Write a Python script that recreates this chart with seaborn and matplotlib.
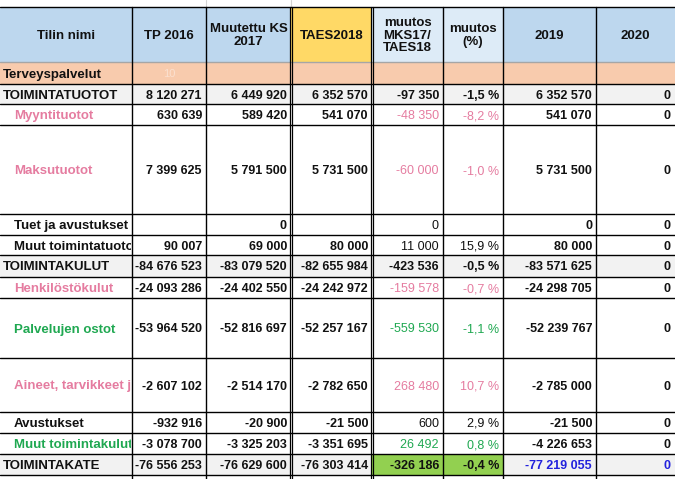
import matplotlib
matplotlib.use('Agg')
import matplotlib.pyplot as plt
from matplotlib.patches import Rectangle
from matplotlib.transforms import Bbox, TransformedBbox

import seaborn as sns

# Table data
headers = ["Tilin nimi", "TP 2016", "Muutettu KS\n2017", "TAES2018",
           "muutos\nMKS17/\nTAES18", "muutos\n(%)", "2019", "2020"]

row_names = ["Terveyspalvelut", "TOIMINTATUOTOT", "Myyntituotot", "Maksutuotot",
             "Tuet ja avustukset", "Muut toimintatuotot", "TOIMINTAKULUT",
             "Henkilöstökulut", "Palvelujen ostot", "Aineet, tarvikkeet ja tavarat",
             "Avustukset", "Muut toimintakulut", "TOIMINTAKATE"]

tp2016 = [None, 8120271, 630639, 7399625, None, 90007, -84676523,
          -24093286, -53964520, -2607102, -932916, -3078700, -76556253]
mks2017 = [None, 6449920, 589420, 5791500, 0, 69000, -83079520,
           -24402550, -52816697, -2514170, -20900, -3325203, -76629600]
taes2018 = [None, 6352570, 541070, 5731500, None, 80000, -82655984,
            -24242972, -52257167, -2782650, -21500, -3351695, -76303414]
muutos = [None, -97350, -48350, -60000, 0, 11000, -423536,
          -159578, -559530, 268480, 600, 26492, -326186]
muutos_pct = [None, -1.5, -8.2, -1.0, None, 15.9, -0.5,
              -0.7, -1.1, 10.7, 2.9, 0.8, -0.4]
ts2019 = [None, 6352570, 541070, 5731500, 0, 80000, -83571625,
          -24298705, -52239767, -2785000, -21500, -4226653, -77219055]
ts2020 = [None, 0, 0, 0, 0, 0, 0, 0, 0, 0, 0, 0, 0]

# row kind: section / total / pink / green / plain
row_kind = ["section", "total", "pink", "pink", "plain", "plain", "total",
            "pink", "green", "pink", "plain", "green", "final"]

# layout (pixels)
col_edges = [0, 132, 206, 291, 372, 443, 503, 596, 675]
header_top, header_bottom = 7, 62
row_edges = [62, 84, 104, 125, 214, 235, 255, 277, 298, 358, 412, 433, 454, 475, 496]

BLUE_HEAD = "#bdd7ee"
LIGHT_HEAD = "#ddebf7"
YELLOW_HEAD = "#ffd966"
SALMON = "#f8cbad"
GREY = "#f2f2f2"
GREEN_CELL = "#92d050"
PINK = "#e57ca0"
GREEN = "#1fa851"
BLUE_TXT = "#2222dd"

sns.set_theme(style="white")
plt.rcParams['font.family'] = ['Liberation Sans', 'DejaVu Sans']


def fmt_num(v):
    s = f"{abs(v):,}".replace(",", " ")
    return "-" + s if v < 0 else s


def fmt_pct(v):
    return f"{v:.1f} %".replace(".", ",")


fig = plt.figure(figsize=(6.75, 4.79), dpi=100)
ax = fig.add_axes([0, 0, 1, 1])
ax.set_xlim(0, 675)
ax.set_ylim(479, 0)
ax.axis("off")

# header
head_colors = [BLUE_HEAD, BLUE_HEAD, BLUE_HEAD, YELLOW_HEAD,
               LIGHT_HEAD, LIGHT_HEAD, BLUE_HEAD, BLUE_HEAD]
for i, h in enumerate(headers):
    x0, x1 = col_edges[i], col_edges[i + 1]
    ax.add_patch(Rectangle((x0, header_top), x1 - x0, header_bottom - header_top,
                           facecolor=head_colors[i], edgecolor="none"))
    ax.text((x0 + x1) / 2, (header_top + header_bottom) / 2 + 1, h,
            ha="center", va="center", fontsize=9.5, fontweight="bold",
            linespacing=1.05, color="#111111")

# faint sheet gridlines above the header
for x in [206, 291]:
    ax.plot([x, x], [0, header_top], color="#d4d4d4", lw=0.8)

columns = [tp2016, mks2017, taes2018, muutos, muutos_pct, ts2019, ts2020]

for r, name in enumerate(row_names):
    y0, y1 = row_edges[r], row_edges[r + 1]
    kind = row_kind[r]
    yb = (y0 + y1) / 2 + 4.5  # text baseline

    if kind == "section":
        bg = SALMON
    elif kind in ("total", "final"):
        bg = GREY
    else:
        bg = "white"
    ax.add_patch(Rectangle((0, y0), 675, y1 - y0, facecolor=bg, edgecolor="none"))
    if kind == "final":
        ax.add_patch(Rectangle((col_edges[4], y0), col_edges[6] - col_edges[4], y1 - y0,
                               facecolor=GREEN_CELL, edgecolor="none"))

    # name cell, clipped to first column
    name_color = {"pink": PINK, "green": GREEN}.get(kind, "#111111")
    indent = 3 if kind in ("section", "total", "final") else 14
    t = ax.text(indent, yb, name, ha="left", va="baseline", fontsize=9.5,
                fontweight="bold", color=name_color)
    t.set_clip_box(TransformedBbox(Bbox([[0, y0], [col_edges[1] - 1, y1]]), ax.transData))
    t.set_clip_on(True)

    if kind == "section":
        ax.text(col_edges[1] + 37, yb - 1, "10", ha="center", va="baseline",
                fontsize=8, color="#fbe0cf")
        continue

    for c, vals in enumerate(columns):
        v = vals[r]
        if v is None:
            continue
        ci = c + 1
        txt = fmt_pct(v) if ci == 5 else fmt_num(v)
        color = "#111111"
        weight = "bold"
        if ci in (4, 5):
            if kind == "pink":
                color = PINK
            elif kind == "green":
                color = GREEN
            if kind not in ("total", "final"):
                weight = "normal"
        if kind == "final" and ci in (6, 7):
            color = BLUE_TXT
        ax.text(col_edges[ci + 1] - 4, yb, txt, ha="right", va="baseline",
                fontsize=9, fontweight=weight, color=color)

# grid lines
ax.plot([0, 675], [header_top, header_top], color="black", lw=1)
ax.plot([0, 675], [header_bottom, header_bottom], color="#a6a6a6", lw=1)
for y in row_edges[1:]:
    ax.plot([0, 675], [y, y], color="black", lw=1)
for i, x in enumerate(col_edges[1:-1], start=1):
    if i in (3, 4):
        ax.plot([x - 1.2, x - 1.2], [header_top, 479], color="black", lw=0.9)
        ax.plot([x + 1.2, x + 1.2], [header_top, 479], color="black", lw=0.9)
    else:
        ax.plot([x, x], [header_top, 479], color="black", lw=1)

fig.savefig("out.png", dpi=100)
